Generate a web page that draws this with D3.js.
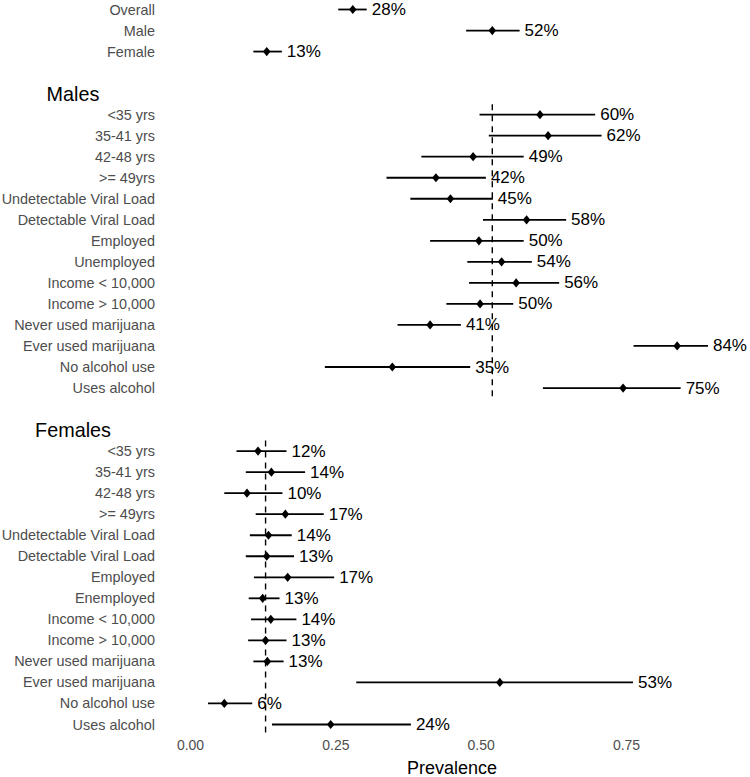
<!DOCTYPE html>
<html>
<head>
<meta charset="utf-8">
<script src="https://cdn.jsdelivr.net/npm/d3@7"></script>
<style>
  html, body { margin: 0; padding: 0; background: #fff; }
  svg { display: block; font-family: "Liberation Sans", Arial, sans-serif; }
</style>
</head>
<body>
<svg id="chart" width="750" height="777"></svg>
<script>
// ---- data ----
const overallLabels = ["Overall", "Male", "Female"];
const overallEst = [0.280, 0.520, 0.132];
const overallLo  = [0.255, 0.475, 0.109];
const overallHi  = [0.304, 0.567, 0.158];
const overallPct = ["28%", "52%", "13%"];

const maleLabels = ["<35 yrs", "35-41 yrs", "42-48 yrs", ">= 49yrs", "Undetectable Viral Load",
  "Detectable Viral Load", "Employed", "Unemployed", "Income < 10,000", "Income > 10,000",
  "Never used marijuana", "Ever used marijuana", "No alcohol use", "Uses alcohol"];
const maleEst = [0.602, 0.616, 0.487, 0.423, 0.448, 0.579, 0.497, 0.536, 0.561, 0.499, 0.413, 0.838, 0.348, 0.745];
const maleLo  = [0.498, 0.514, 0.398, 0.338, 0.379, 0.504, 0.413, 0.477, 0.480, 0.441, 0.357, 0.763, 0.232, 0.607];
const maleHi  = [0.697, 0.708, 0.574, 0.509, 0.521, 0.647, 0.574, 0.588, 0.635, 0.556, 0.466, 0.891, 0.482, 0.844];
const malePct = ["60%", "62%", "49%", "42%", "45%", "58%", "50%", "54%", "56%", "50%", "41%", "84%", "35%", "75%"];

const femaleLabels = ["<35 yrs", "35-41 yrs", "42-48 yrs", ">= 49yrs", "Undetectable Viral Load",
  "Detectable Viral Load", "Employed", "Enemployed", "Income < 10,000", "Income > 10,000",
  "Never used marijuana", "Ever used marijuana", "No alcohol use", "Uses alcohol"];
const femaleEst = [0.117, 0.140, 0.098, 0.164, 0.135, 0.132, 0.168, 0.125, 0.139, 0.130, 0.133, 0.533, 0.059, 0.242];
const femaleLo  = [0.080, 0.096, 0.059, 0.113, 0.103, 0.096, 0.110, 0.101, 0.105, 0.100, 0.109, 0.286, 0.031, 0.141];
const femaleHi  = [0.166, 0.198, 0.159, 0.230, 0.175, 0.179, 0.248, 0.154, 0.183, 0.166, 0.161, 0.762, 0.107, 0.380];
const femalePct = ["12%", "14%", "10%", "17%", "14%", "13%", "17%", "13%", "14%", "13%", "13%", "53%", "6%", "24%"];

const groupHeaders = ["Males", "Females"];
const refValues = [0.52, 0.13];   // male / female reference (dashed)
const xTicks = [0, 0.25, 0.5, 0.75];
const xTickLabels = ["0.00", "0.25", "0.50", "0.75"];
const xTitle = "Prevalence";

// ---- build row list ----
const rows = [];
overallLabels.forEach((l, i) => rows.push({key: "o" + i, label: l, est: overallEst[i], lo: overallLo[i], hi: overallHi[i], pct: overallPct[i]}));
rows.push({key: "gap1"});
rows.push({key: "hM", header: groupHeaders[0]});
maleLabels.forEach((l, i) => rows.push({key: "m" + i, label: l, est: maleEst[i], lo: maleLo[i], hi: maleHi[i], pct: malePct[i]}));
rows.push({key: "gap2"});
rows.push({key: "hF", header: groupHeaders[1]});
femaleLabels.forEach((l, i) => rows.push({key: "f" + i, label: l, est: femaleEst[i], lo: femaleLo[i], hi: femaleHi[i], pct: femalePct[i]}));

// ---- scales ----
const x = d3.scaleLinear().domain([0, 0.75]).range([190, 626]);
const y = d3.scalePoint().domain(rows.map(r => r.key)).range([9.5, 724.5]).padding(0);
const step = y.step();

const svg = d3.select("#chart");

// dashed reference lines
const refSpans = [
  {v: refValues[0], from: "hM", to: "m13"},
  {v: refValues[1], from: "hF", to: "f13"}
];
svg.append("g").selectAll("line").data(refSpans).join("line")
  .attr("x1", d => x(d.v)).attr("x2", d => x(d.v))
  .attr("y1", d => y(d.from) + step * 0.5)
  .attr("y2", d => y(d.to) + step * 0.5)
  .attr("stroke", "#000").attr("stroke-width", 1.4)
  .attr("stroke-dasharray", "6,5");

const dataRows = rows.filter(r => r.label !== undefined);

// y labels
svg.append("g").selectAll("text").data(dataRows).join("text")
  .attr("x", 155).attr("y", d => y(d.key))
  .attr("text-anchor", "end").attr("dominant-baseline", "central")
  .attr("font-size", 14.4).attr("fill", "#4d4d4d")
  .text(d => d.label);

// headers
svg.append("g").selectAll("text").data(rows.filter(r => r.header)).join("text")
  .attr("x", 73).attr("y", d => y(d.key))
  .attr("text-anchor", "middle").attr("dominant-baseline", "central")
  .attr("font-size", 19.8).attr("fill", "#000")
  .text(d => d.header);

// CI lines
svg.append("g").selectAll("line").data(dataRows).join("line")
  .attr("x1", d => x(d.lo)).attr("x2", d => x(d.hi))
  .attr("y1", d => y(d.key)).attr("y2", d => y(d.key))
  .attr("stroke", "#000").attr("stroke-width", 1.8);

// diamonds
const dw = 3.8, dh = 4.6;
svg.append("g").selectAll("path").data(dataRows).join("path")
  .attr("d", `M0,${-dh}L${dw},0L0,${dh}L${-dw},0Z`)
  .attr("transform", d => `translate(${x(d.est)},${y(d.key)})`)
  .attr("fill", "#000");

// value labels
svg.append("g").selectAll("text").data(dataRows).join("text")
  .attr("x", d => x(d.hi) + 5).attr("y", d => y(d.key))
  .attr("dominant-baseline", "central")
  .attr("font-size", 17).attr("fill", "#000")
  .text(d => d.pct);

// x axis
const axis = d3.axisBottom(x).tickValues(xTicks).tickFormat((d, i) => xTickLabels[i]).tickSize(0).tickPadding(0);
const gx = svg.append("g").attr("transform", "translate(0,740)").call(axis);
gx.select(".domain").remove();
gx.selectAll("text").attr("font-size", 14).attr("fill", "#4d4d4d")
  .attr("font-family", "Liberation Sans, Arial, sans-serif");

svg.append("text")
  .attr("x", 452).attr("y", 774)
  .attr("text-anchor", "middle")
  .attr("font-size", 18).attr("fill", "#000")
  .text(xTitle);
</script>
</body>
</html>
